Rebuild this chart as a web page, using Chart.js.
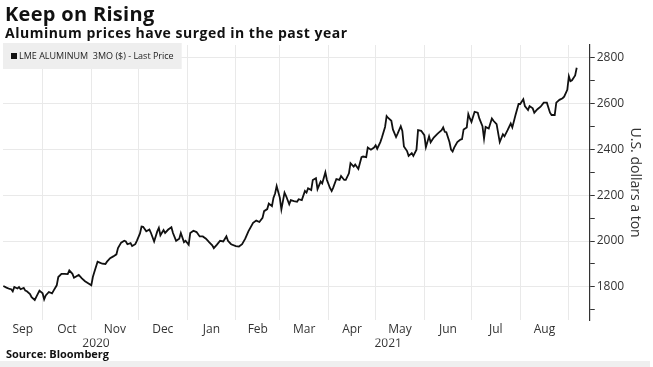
<!DOCTYPE html>
<html>
<head>
<meta charset="utf-8">
<script src="https://cdn.jsdelivr.net/npm/chart.js@4/dist/chart.umd.min.js"></script>
<style>
  html, body { margin: 0; padding: 0; background: #fff; }
  #wrap { position: relative; width: 653px; height: 367px; overflow: hidden;
          font-family: 'Open Sans', sans-serif; color: #111; }
  #wrap canvas { position: absolute; left: 0; top: 0; }
  .title { position: absolute; left: 5px; top: 2px; font-weight: 700; font-size: 20px; line-height: 24px; letter-spacing: 0.3px; }
  .sub { position: absolute; left: 5px; top: 24px; font-weight: 700; font-size: 14px; line-height: 18px; letter-spacing: 0.5px; }
  .source { position: absolute; left: 6px; top: 347px; font-weight: 700; font-size: 11px; line-height: 14px; }
  .band { position: absolute; left: 0; top: 361px; width: 650px; height: 6px; background: #efefef; }
</style>
</head>
<body>
<div id="wrap">
  <canvas id="c" width="653" height="367"></canvas>
  <div class="title">Keep on Rising</div>
  <div class="sub">Aluminum prices have surged in the past year</div>
  <div class="source">Source: Bloomberg</div>
  <div class="band"></div>
</div>
<script>
'use strict';

// days counted from 2020-09-01
const days = [
  5,7,9,10,11,12,14,15,16,18,
  19,20,22,23,25,26,28,30,31,32,
  34,36,37,39,40,42,44,46,47,49,
  50,53,55,57,59,61,62,63,65,66,
  68,70,71,73,75,77,78,80,82,83,
  84,86,87,89,90,92,93,94,96,98,
  99,101,103,104,105,107,108,110,112,113,
  115,117,118,120,121,123,124,126,128,130,
  132,134,136,138,139,141,143,145,147,148,
  150,153,155,157,159,161,164,166,168,170,
  171,173,174,176,177,178,179,181,182,184,
  185,187,188,190,192,193,195,197,198,199,
  201,202,204,205,207,208,210,211,213,214,
  215,217,219,220,222,223,225,226,228,229,
  231,233,234,236,237,239,241,242,243,245,
  246,248,249,250,252,253,255,256,258,259,
  260,262,263,265,266,268,269,271,273,274,
  276,277,279,281,282,284,285,286,287,289,
  290,291,292,294,296,297,298,300,301,302,
  303,305,307,308,310,311,312,314,316,317,
  319,321,323,324,326,328,329,331,333,334,
  336,337,339,340,342,343,345,347,349,351,
  353,354,356,357,359,361,362,364,365,366,
  367,369,370
];

// LME aluminium 3M, USD per tonne
const prices = [
  1804,1797,1791,1790,1781,1800,1793,1799,1790,1796,
  1784,1781,1769,1755,1743,1757,1784,1772,1746,1763,
  1778,1772,1784,1807,1843,1857,1857,1856,1872,1857,
  1840,1852,1837,1825,1816,1807,1843,1866,1910,1907,
  1901,1900,1910,1925,1933,1942,1969,1993,2001,1998,
  1986,1991,1978,1986,2001,2033,2063,2062,2042,2050,
  2035,1998,2042,2057,2025,2048,2035,2050,2060,2035,
  2001,2010,2035,1995,2001,1984,2035,2045,2039,2020,
  2020,2010,1995,1981,1969,1984,2001,1998,2020,2001,
  1986,1978,1976,1986,2010,2042,2079,2089,2083,2101,
  2130,2139,2163,2152,2189,2207,2239,2189,2138,2211,
  2196,2160,2178,2174,2171,2182,2178,2218,2211,2230,
  2222,2266,2274,2226,2259,2251,2299,2266,2230,2218,
  2233,2270,2266,2283,2266,2266,2295,2339,2324,2333,
  2314,2365,2368,2365,2407,2398,2407,2417,2402,2431,
  2451,2497,2544,2536,2524,2486,2453,2468,2500,2480,
  2412,2392,2371,2383,2371,2398,2483,2480,2461,2409,
  2456,2430,2451,2465,2471,2483,2495,2476,2474,2431,
  2398,2390,2407,2431,2442,2444,2486,2495,2553,2534,
  2519,2563,2559,2534,2500,2446,2497,2490,2534,2524,
  2509,2431,2465,2456,2483,2512,2495,2548,2597,2597,
  2618,2588,2571,2588,2578,2559,2574,2585,2603,2603,
  2559,2549,2549,2603,2615,2622,2629,2659,2718,2696,
  2700,2721,2755
];

const seriesLabel = 'LME ALUMINUM  3MO ($) - Last Price';
const monthLabels = ['Sep','Oct','Nov','Dec','Jan','Feb','Mar','Apr','May','Jun','Jul','Aug'];
const monthStarts = [0,30,61,91,122,153,181,212,242,273,303,334,365];
const yearLabels = ['2020','2021'];
const yearDays = [64,250];
const yTicks = [1700,1800,1900,2000,2100,2200,2300,2400,2500,2600,2700,2800];

const xMin = 4.8, xMax = 378.3;
const yMin = 1655, yMax = 2854;

// month names sit in the middle of the visible part of each month
const labelDays = monthLabels.map((m, i) => (Math.max(monthStarts[i], xMin) + monthStarts[i + 1]) / 2);

const FONT = "'Open Sans', sans-serif";
const gridCol = '#e9e9e9';

const legendBox = {
  id: 'legendBox',
  afterDraw(chart) {
    const {ctx, chartArea} = chart;
    ctx.save();
    ctx.font = '9px ' + FONT;
    const w = ctx.measureText(seriesLabel).width;
    const x = chartArea.left, y = chartArea.top - 2;
    ctx.fillStyle = '#eeeeee';
    ctx.fillRect(x, y, w + 24, 26);
    ctx.fillStyle = '#111';
    ctx.fillRect(x + 8, y + 10, 6, 6);
    ctx.fillStyle = '#222';
    ctx.textBaseline = 'middle';
    ctx.fillText(seriesLabel, x + 16, y + 13.5);
    ctx.restore();
  }
};

new Chart(document.getElementById('c'), {
  type: 'line',
  data: {
    datasets: [{
      label: seriesLabel,
      data: days.map((d, i) => ({x: d, y: prices[i]})),
      borderColor: '#111', borderWidth: 1.8, pointRadius: 0, tension: 0, fill: false
    }]
  },
  options: {
    responsive: false, animation: false,
    layout: {padding: {left: 3, right: 8, top: 45, bottom: 18}},
    plugins: {legend: {display: false}, tooltip: {enabled: false}},
    scales: {
      x: {
        type: 'linear', position: 'bottom', min: xMin, max: xMax,
        afterBuildTicks: s => { s.ticks = monthStarts.map(v => ({value: v})); },
        grid: {color: gridCol, drawTicks: false}, border: {display: false},
        ticks: {display: false}
      },
      xl: {
        type: 'linear', position: 'bottom', min: xMin, max: xMax,
        afterBuildTicks: s => { s.ticks = labelDays.map(v => ({value: v})); },
        grid: {display: false, drawTicks: false}, border: {display: false},
        ticks: {callback: (v, i) => monthLabels[i], autoSkip: false, maxRotation: 0,
                padding: 2, color: '#333', font: {family: FONT, size: 12}}
      },
      xy: {
        type: 'linear', position: 'bottom', min: xMin, max: xMax,
        afterBuildTicks: s => { s.ticks = yearDays.map(v => ({value: v})); },
        grid: {display: false, drawTicks: false}, border: {display: false},
        ticks: {callback: (v, i) => yearLabels[i], autoSkip: false, maxRotation: 0,
                padding: -2, color: '#333', font: {family: FONT, size: 12}}
      },
      y: {
        position: 'right', min: yMin, max: yMax,
        afterBuildTicks: s => { s.ticks = yTicks.map(v => ({value: v})); },
        grid: {
          color: c => (c.tick && c.tick.value % 200 === 0) ? gridCol : 'rgba(0,0,0,0)',
          tickColor: '#333', tickLength: 5
        },
        border: {display: true, color: '#333', width: 1.2},
        ticks: {callback: v => v % 200 === 0 ? v : '', padding: 2,
                color: '#333', font: {family: FONT, size: 12}},
        title: {display: true, text: 'U.S. dollars a ton', color: '#333',
                font: {family: FONT, size: 14}, padding: {top: 2, bottom: 0}}
      }
    }
  },
  plugins: [legendBox]
});
</script>
</body>
</html>
